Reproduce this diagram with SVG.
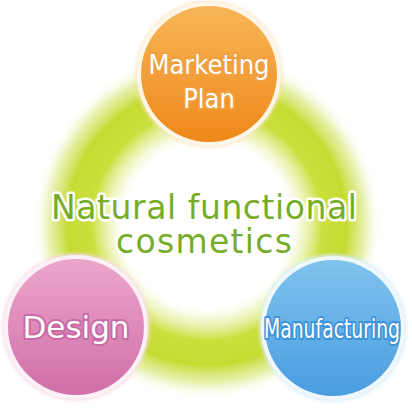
<svg xmlns="http://www.w3.org/2000/svg" width="412" height="408" viewBox="0 0 412 408">
<defs>
<style>
.t{font-family:"DejaVu Sans Condensed","DejaVu Sans",sans-serif;font-stretch:condensed;text-anchor:middle;fill:#fff;paint-order:stroke;stroke-linejoin:round}
.c{font-family:"DejaVu Sans","Liberation Sans",sans-serif;text-anchor:middle;fill:#76ad28;stroke:#fff;stroke-width:5;paint-order:stroke;stroke-linejoin:round}
</style>
<radialGradient id="ring" cx="207" cy="225" r="175" gradientUnits="userSpaceOnUse">
<stop offset="0" stop-color="#fff" stop-opacity="0"/>
<stop offset="0.48" stop-color="#e6ef9a" stop-opacity="0"/>
<stop offset="0.66" stop-color="#cbdf3e"/>
<stop offset="0.8" stop-color="#c6db32"/>
<stop offset="0.9" stop-color="#d6e672" stop-opacity="0.6"/>
<stop offset="1" stop-color="#fff" stop-opacity="0"/>
</radialGradient>
<linearGradient id="og" x1="0" y1="0" x2="0" y2="1">
<stop offset="0" stop-color="#f8b657"/>
<stop offset="1" stop-color="#ee881a"/>
</linearGradient>
<linearGradient id="pg" x1="0" y1="0" x2="0" y2="1">
<stop offset="0" stop-color="#eba6cc"/>
<stop offset="1" stop-color="#d06ea8"/>
</linearGradient>
<linearGradient id="bg" x1="0" y1="0" x2="0" y2="1">
<stop offset="0" stop-color="#7fc3ee"/>
<stop offset="1" stop-color="#4a9de0"/>
</linearGradient>
<filter id="soft" x="-20%" y="-20%" width="140%" height="140%"><feGaussianBlur stdDeviation="1.5"/></filter>
</defs>
<rect width="412" height="408" fill="#fff"/>
<circle cx="207" cy="225" r="175" fill="url(#ring)"/>
<g id="center">
<text class="c" x="204" y="219" font-size="33" textLength="306" lengthAdjust="spacing">Natural functional</text>
<text class="c" x="204" y="253" font-size="33" textLength="176" lengthAdjust="spacing">cosmetics</text>
</g>
<g id="marketing">
<circle cx="209" cy="74" r="74" fill="#fbe6c4" opacity="0.7" filter="url(#soft)"/>
<circle cx="209" cy="74" r="72" fill="#fff6e8"/>
<circle cx="209" cy="74" r="68" fill="url(#og)"/>
<text class="t" x="209" y="74" font-size="27" stroke="#f0a040" stroke-width="4">Marketing</text>
<text class="t" x="209" y="108" font-size="27" stroke="#f0a040" stroke-width="4">Plan</text>
</g>
<g id="design">
<circle cx="76" cy="327" r="74" fill="#f8dbe9" opacity="0.8" filter="url(#soft)"/>
<circle cx="76" cy="327" r="72" fill="#fdf0f6"/>
<circle cx="76" cy="327" r="68" fill="url(#pg)"/>
<text class="t" x="76" y="338" font-size="31" style="font-family:'DejaVu Sans',sans-serif;font-stretch:normal" stroke="#c96aa4" stroke-width="4">Design</text>
</g>
<g id="manufacturing">
<circle cx="333" cy="328" r="74" fill="#d8eef8" opacity="0.8" filter="url(#soft)"/>
<circle cx="333" cy="328" r="72" fill="#eef8fd"/>
<circle cx="333" cy="328" r="68" fill="url(#bg)"/>
<text class="t" x="332" y="338" font-size="26" stroke="#3c93d8" stroke-width="4" textLength="136" lengthAdjust="spacingAndGlyphs">Manufacturing</text>
</g>
<g id="connectors"></g>
</svg>
